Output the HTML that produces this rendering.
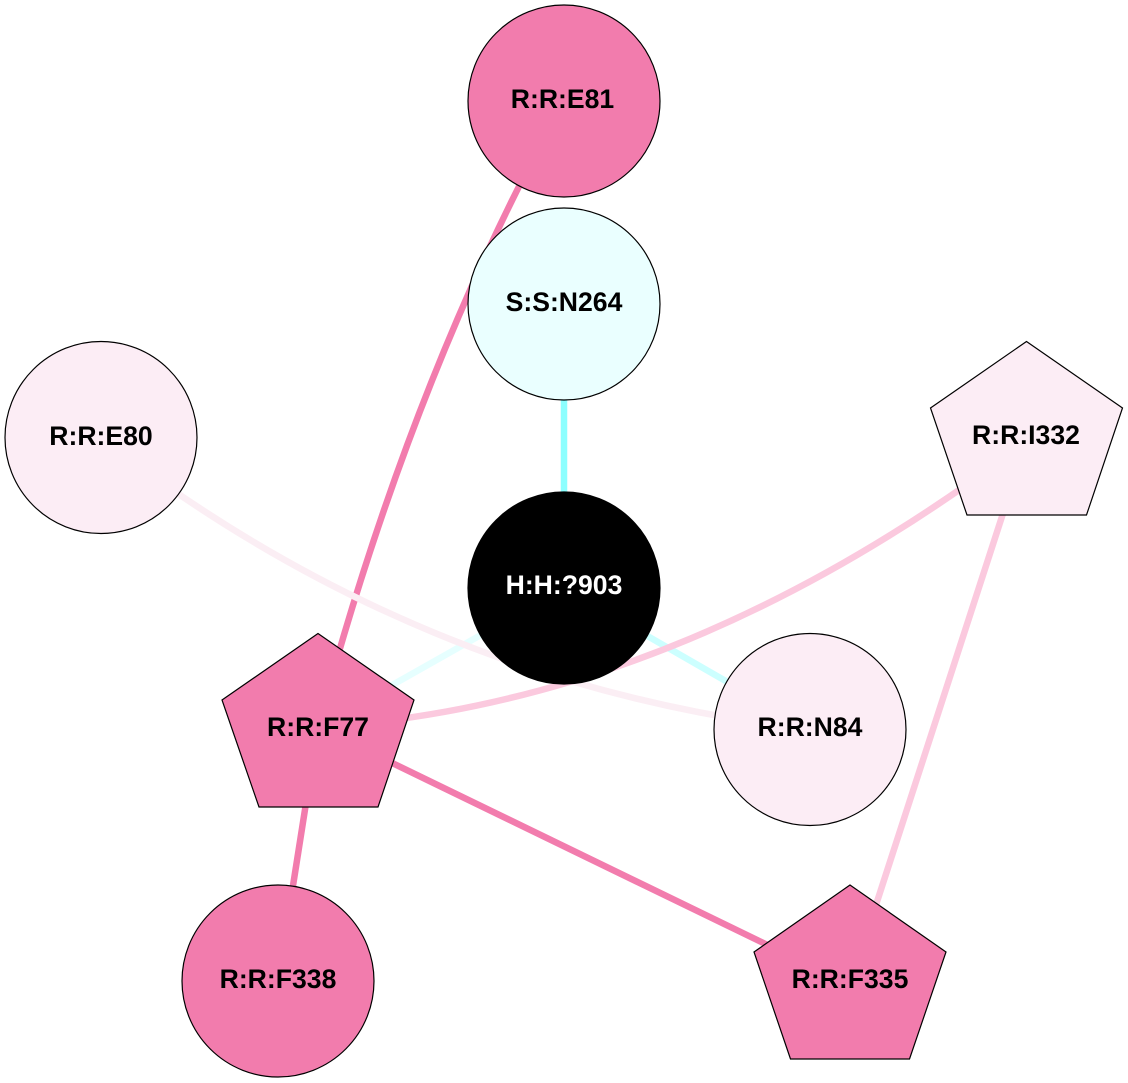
<!DOCTYPE html>
<html><head><meta charset="utf-8"><style>
html,body{margin:0;padding:0;background:#fff}
svg{display:block}
text{font-family:"Liberation Sans",sans-serif;font-weight:bold;font-size:26.6px;text-anchor:middle}
</style></head><body>
<svg width="1128" height="1083" viewBox="0 0 1128 1083" xmlns="http://www.w3.org/2000/svg">
<g fill="none" stroke-width="6.5">
<path d="M318 727 L564 588" stroke="#e6ffff"/>
<path d="M564 588 L810 729.5" stroke="#ccffff"/>
<path d="M564 304 L564 588" stroke="#8cffff"/>
<path d="M564 101 Q412 375 318 727" stroke="#f27cad"/>
<path d="M101 437.5 Q418 684 810 729.5" stroke="#fbeef4"/>
<path d="M318 727 Q680 705 1026.5 441" stroke="#fbc9de"/>
<path d="M1026.5 441 L850 985" stroke="#fbc9de"/>
<path d="M318 727 Q590 858 850 985" stroke="#f27cad"/>
<path d="M318 727 L278 981" stroke="#f27cad"/>
</g>
<g stroke="#000" stroke-width="1.2">
<circle cx="564" cy="101" r="96" fill="#f27cad"/>
<circle cx="564" cy="304" r="96" fill="#eaffff"/>
<circle cx="101" cy="437.5" r="96" fill="#fcedf5"/>
<circle cx="564" cy="588" r="96" fill="#000"/>
<circle cx="810" cy="729.5" r="96" fill="#fcedf5"/>
<circle cx="278" cy="981" r="96" fill="#f27cad"/>
<polygon points="318,633.5 414,700 378,807 259,807 222,700" fill="#f27cad"/>
<polygon points="1026.5,341.5 1122.5,408 1086.5,515 967,515 930.5,408" fill="#fcedf5"/>
<polygon points="850,885 946,952 909.5,1059 790.5,1059 754,952" fill="#f27cad"/>
</g>
<text x="562.5" y="108">R:R:E81</text>
<text x="564" y="311">S:S:N264</text>
<text x="101" y="445">R:R:E80</text>
<text x="564" y="594" fill="#fff">H:H:?903</text>
<text x="810" y="736">R:R:N84</text>
<text x="278" y="988">R:R:F338</text>
<text x="318" y="736">R:R:F77</text>
<text x="1026" y="444">R:R:I332</text>
<text x="850" y="988">R:R:F335</text>
</svg>
</body></html>
